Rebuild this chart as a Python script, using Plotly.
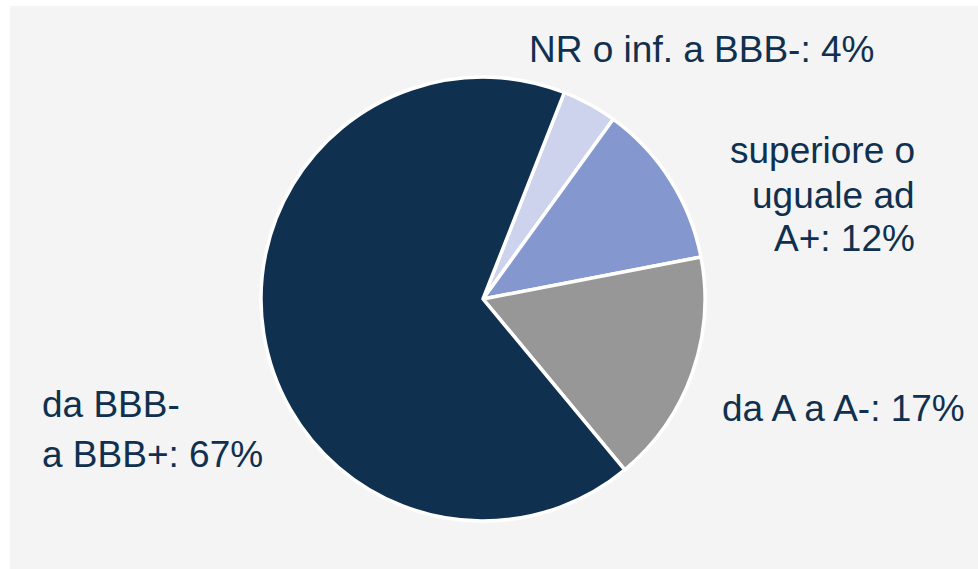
import plotly.graph_objects as go

# ---- data ----
categories = ["NR o inf. a BBB-", "superiore o uguale ad A+", "da A a A-", "da BBB- a BBB+"]
display_labels = ["NR o inf. a BBB-", "superiore o<br>uguale ad<br>A+", "da A a A-", "da BBB-<br>a BBB+"]
shares = [4, 12, 17, 67]
colors = ["#cdd3ec", "#8597cf", "#979797", "#10304f"]

W, H = 978, 569
TEXT_COLOR = "#10304f"
FONT = "Liberation Sans, Arial, sans-serif"
FS = 37

# pie geometry (pixels)
cx, cy, r = 483, 299, 222

fig = go.Figure(go.Pie(
    labels=categories,
    values=shares,
    sort=False,
    direction="clockwise",
    rotation=21.5,
    marker=dict(colors=colors, line=dict(color="white", width=3.5)),
    textinfo="none",
    hoverinfo="skip",
    showlegend=False,
    domain=dict(x=[(cx - r) / W, (cx + r) / W], y=[1 - (cy + r) / H, 1 - (cy - r) / H]),
))

# label placement (pixels): anchor x, baselines of each line, xanchor
placements = [
    (701, [63], "center"),
    (917, [165, 210, 253], "right"),
    (843, [422], "center"),
    (40, [418, 468], "left"),
]
for disp, v, (px, baselines, xa) in zip(display_labels, shares, placements):
    lines = f"{disp}: {v}%".split("<br>")
    for line, base in zip(lines, baselines):
        fig.add_annotation(
            text=line,
            x=px / W, y=1 - (base - 14) / H, xref="paper", yref="paper",
            xanchor=xa, yanchor="middle", showarrow=False,
            font=dict(family=FONT, size=FS, color=TEXT_COLOR),
        )

fig.update_layout(
    width=W, height=H,
    margin=dict(l=0, r=0, t=0, b=0),
    paper_bgcolor="white",
    shapes=[dict(type="rect", xref="paper", yref="paper",
                 x0=10 / W, x1=1, y0=0, y1=1 - 6 / H,
                 fillcolor="#f4f4f4", line=dict(width=0), layer="below")],
)

fig.write_html("out.html", config={"displayModeBar": False},
               post_script="document.body.style.margin='0';")
